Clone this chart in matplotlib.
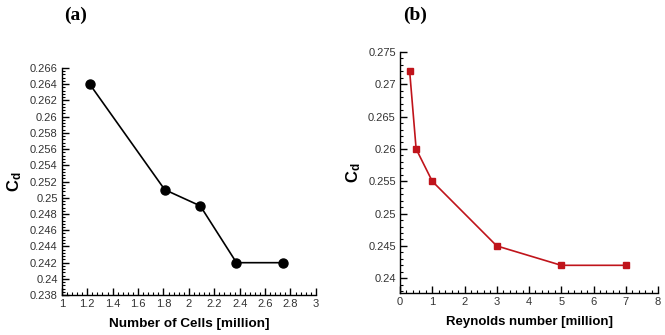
import matplotlib.pyplot as plt
from matplotlib.ticker import MultipleLocator, FuncFormatter

plt.rcParams['font.family'] = ['Liberation Sans', 'DejaVu Sans']
plt.rcParams['mathtext.fontset'] = 'custom'
plt.rcParams['mathtext.bf'] = 'Liberation Sans:bold'
plt.rcParams['mathtext.rm'] = 'Liberation Sans'

# (a) grid independence
cells = [1.22, 1.81, 2.09, 2.375, 2.745]
cd_cells = [0.264, 0.251, 0.249, 0.242, 0.242]

# (b) Reynolds number
reynolds = [0.3, 0.5, 1, 3, 5, 7]
cd_re = [0.272, 0.260, 0.255, 0.245, 0.242, 0.242]

fmt = FuncFormatter(lambda v, p: '%g' % round(v, 6))

fig = plt.figure(figsize=(6.65, 3.35), dpi=100)
ax1 = fig.add_axes([0.093, 0.119, 0.382, 0.678])
ax2 = fig.add_axes([0.6015, 0.125, 0.388, 0.72])

ax1.plot(cells, cd_cells, color='black', lw=1.2, marker='o', ms=6.5, clip_on=False)
ax1.set_xlim(1, 3)
ax1.set_ylim(0.238, 0.266)
ax1.xaxis.set_major_locator(MultipleLocator(0.2))
ax1.xaxis.set_minor_locator(MultipleLocator(0.04))
ax1.yaxis.set_major_locator(MultipleLocator(0.002))
ax1.yaxis.set_minor_locator(MultipleLocator(0.0004))
ax1.set_xlabel('Number of Cells [million]', fontsize=9.7, fontweight='bold', labelpad=6)

ax2.plot(reynolds, cd_re, color='#c0141b', lw=1.2, marker='s', ms=4.8, clip_on=False)
ax2.set_xlim(0, 8)
ax2.set_ylim(0.2377, 0.275)
ax2.xaxis.set_major_locator(MultipleLocator(1))
ax2.xaxis.set_minor_locator(MultipleLocator(0.2))
ax2.yaxis.set_major_locator(MultipleLocator(0.005))
ax2.yaxis.set_minor_locator(MultipleLocator(0.001))
ax2.set_xlabel('Reynolds number [million]', fontsize=9.5, fontweight='bold', labelpad=6)

for ax in (ax1, ax2):
    ax.spines['top'].set_visible(False)
    ax.spines['right'].set_visible(False)
    ax.spines['left'].set_linewidth(1.0)
    ax.spines['bottom'].set_linewidth(1.0)
    ax.xaxis.set_major_formatter(fmt)
    ax.yaxis.set_major_formatter(fmt)
    ax.tick_params(which='major', direction='in', length=5, width=1, labelsize=8,
                   labelcolor='#333333', pad=3)
    ax.tick_params(which='minor', direction='in', length=2.5, width=0.8)
    ax.set_ylabel(r'$\mathbf{C_d}$', fontsize=12, labelpad=4)

fig.text(0.113, 0.955, '(a)', family='Liberation Serif', fontweight='bold', fontsize=14,
         ha='center', va='center')
fig.text(0.624, 0.955, '(b)', family='Liberation Serif', fontweight='bold', fontsize=14,
         ha='center', va='center')

fig.savefig('out.png', dpi=100)
